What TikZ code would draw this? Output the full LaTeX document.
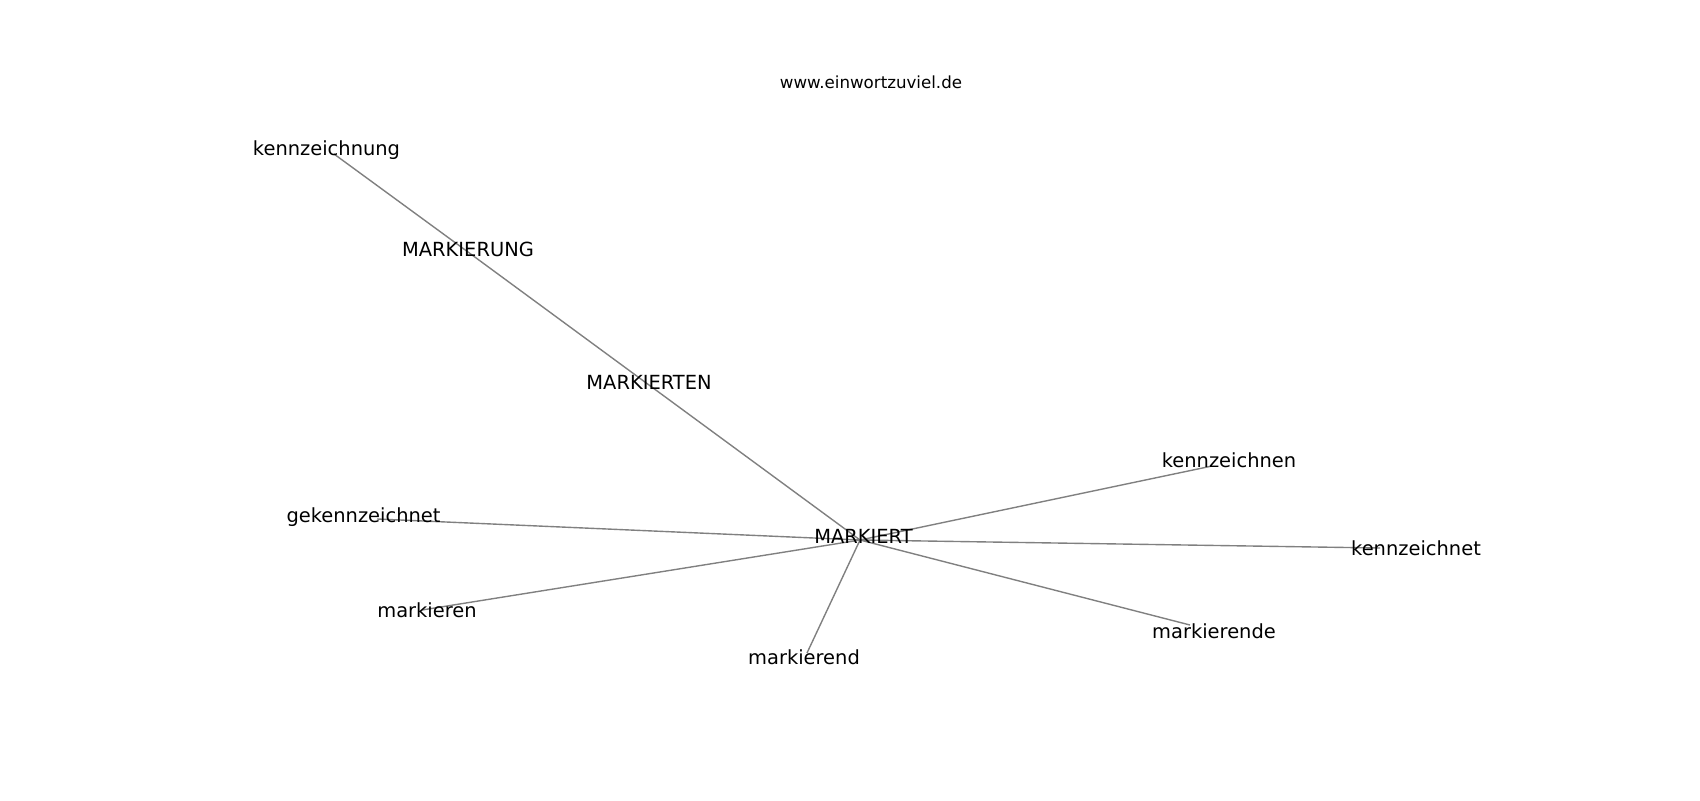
\documentclass[tikz,border=0pt]{standalone}
\usepackage{fontspec}
\setmainfont{DejaVu Sans}
\definecolor{edgegray}{RGB}{128,128,128}
\begin{document}
\begin{tikzpicture}[x=0.72pt,y=-0.72pt,
  lbl/.style={anchor=base,inner sep=0pt,font=\fontsize{14pt}{16pt}\selectfont,text=black},
  ttl/.style={anchor=base,inner sep=0pt,font=\fontsize{12pt}{14pt}\selectfont,text=black},
  edge/.style={draw=edgegray,line width=1pt}]
\useasboundingbox[fill=white] (0,0) rectangle (1700,800);
% graph points
\coordinate (H) at (860,540);
\coordinate (pKzg) at (334,154);
\coordinate (pMU) at (468,252);
\coordinate (pMN) at (649,385);
\coordinate (pKzn) at (1212,466);
\coordinate (pKzt) at (1380,548);
\coordinate (pMde) at (1190,625);
\coordinate (pMd) at (807,653);
\coordinate (pMn) at (422,610);
\coordinate (pGk) at (377,519);
% edges
\draw[edge] (pKzg) -- (pMU);
\draw[edge] (pMU) -- (pMN);
\draw[edge] (pMN) -- (H);
\draw[edge] (H) -- (pKzn);
\draw[edge] (H) -- (pKzt);
\draw[edge] (H) -- (pMde);
\draw[edge] (H) -- (pMd);
\draw[edge] (H) -- (pMn);
\draw[edge] (H) -- (pGk);
% labels
\node[ttl] (title) at (871,88) {www.einwortzuviel.de};
\node[lbl] (kzg) at (326.5,155.5) {kennzeichnung};
\node[lbl] (mu) at (468,256.7) {MARKIERUNG};
\node[lbl] (mn) at (649,389) {MARKIERTEN};
\node[lbl] (mk) at (863.5,543) {MARKIERT};
\node[lbl] (kzn) at (1229,467) {kennzeichnen};
\node[lbl] (kzt) at (1416,555) {kennzeichnet};
\node[lbl] (mde) at (1214,638) {markierende};
\node[lbl] (md) at (804,664) {markierend};
\node[lbl] (mkn) at (427,617) {markieren};
\node[lbl] (gk) at (363.5,522) {gekennzeichnet};
\end{tikzpicture}
\end{document}
